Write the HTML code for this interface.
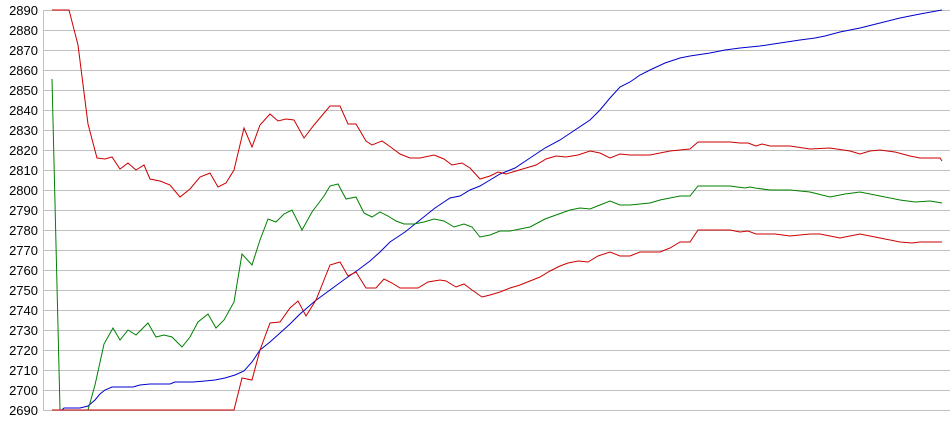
<!DOCTYPE html>
<html><head><meta charset="utf-8"><style>
html,body{margin:0;padding:0;background:#fff;}
svg{display:block}
text{font-family:"Liberation Sans",Arial,sans-serif;font-size:13px;fill:#000}
</style></head><body>
<svg width="950" height="435" xmlns="http://www.w3.org/2000/svg">
<g stroke="#c0c0c0" stroke-width="1" shape-rendering="crispEdges">
<line x1="43" y1="10.5" x2="950" y2="10.5"/><line x1="43" y1="30.5" x2="950" y2="30.5"/><line x1="43" y1="50.5" x2="950" y2="50.5"/><line x1="43" y1="70.5" x2="950" y2="70.5"/><line x1="43" y1="90.5" x2="950" y2="90.5"/><line x1="43" y1="110.5" x2="950" y2="110.5"/><line x1="43" y1="130.5" x2="950" y2="130.5"/><line x1="43" y1="150.5" x2="950" y2="150.5"/><line x1="43" y1="170.5" x2="950" y2="170.5"/><line x1="43" y1="190.5" x2="950" y2="190.5"/><line x1="43" y1="210.5" x2="950" y2="210.5"/><line x1="43" y1="230.5" x2="950" y2="230.5"/><line x1="43" y1="250.5" x2="950" y2="250.5"/><line x1="43" y1="270.5" x2="950" y2="270.5"/><line x1="43" y1="290.5" x2="950" y2="290.5"/><line x1="43" y1="310.5" x2="950" y2="310.5"/><line x1="43" y1="330.5" x2="950" y2="330.5"/><line x1="43" y1="350.5" x2="950" y2="350.5"/><line x1="43" y1="370.5" x2="950" y2="370.5"/><line x1="43" y1="390.5" x2="950" y2="390.5"/><line x1="43" y1="410.5" x2="950" y2="410.5"/>
<line x1="43.5" y1="10" x2="43.5" y2="411"/>
</g>
<g text-anchor="end">
<text x="38" y="15">2890</text><text x="38" y="35">2880</text><text x="38" y="55">2870</text><text x="38" y="75">2860</text><text x="38" y="95">2850</text><text x="38" y="115">2840</text><text x="38" y="135">2830</text><text x="38" y="155">2820</text><text x="38" y="175">2810</text><text x="38" y="195">2800</text><text x="38" y="215">2790</text><text x="38" y="235">2780</text><text x="38" y="255">2770</text><text x="38" y="275">2760</text><text x="38" y="295">2750</text><text x="38" y="315">2740</text><text x="38" y="335">2730</text><text x="38" y="355">2720</text><text x="38" y="375">2710</text><text x="38" y="395">2700</text><text x="38" y="415">2690</text>
</g>
<g fill="none" stroke-width="1">
<polyline stroke="#0000cc" points="52,410 62,410 64,408 80,408 88,406 95,400 100,394 105,390 112,387 133,387 140,385 150,384 170,384 175,382 193,382 205,381 215,380 225,378 235,375 244,371 252,362 260,350 270,342 280,333 290,324 300,314 315,301 330,290 345,279 358,270 370,261 380,252 390,242 405,232 420,220 435,208 450,198 460,196 470,190 480,186 490,180 500,174 515,168 530,158 545,148 560,140 575,130 590,120 600,110 610,98 620,87 630,82 640,75 650,70 665,63 680,58 690,56 710,53 725,50 740,48 760,46 780,43 800,40 815,38 825,36 840,32 860,28 880,23 900,18 920,14 942,10"/>
<polyline stroke="#cc0000" points="52,10 69,10 78,45 88,124 97,158 105,159 112,157 120,169 128,163 136,170 144,165 150,179 160,181 170,185 180,197 190,189 200,177 210,173 218,187 226,183 234,170 244,128 252,147 260,125 270,114 278,121 286,119 294,120 304,138 314,125 330,106 340,106 348,124 356,124 366,141 372,145 382,141 392,148 400,154 410,158 420,158 434,155 444,159 452,165 462,163 470,168 480,179 490,176 498,172 506,174 516,171 526,168 536,165 546,159 556,156 566,157 578,155 590,151 600,153 610,158 620,154 630,155 650,155 670,151 690,149 698,142 730,142 740,143 748,143 756,146 762,144 770,146 790,146 810,149 830,148 850,151 860,154 870,151 880,150 895,152 910,156 920,158 940,158 942,161"/>
<polyline stroke="#008000" points="52,79 60,410 88,410 95,385 104,344 113,328 120,340 128,330 136,335 148,323 156,337 164,335 172,337 182,347 190,337 198,322 208,314 216,328 224,320 234,302 242,254 252,265 260,240 268,219 276,222 284,214 292,210 302,230 312,212 324,196 330,186 338,184 346,199 356,197 364,213 372,217 380,212 388,216 396,221 404,224 414,224 424,222 434,219 444,221 454,227 464,224 472,227 480,237 490,235 500,231 510,231 520,229 530,227 545,219 556,215 570,210 580,208 590,209 600,205 610,201 620,205 630,205 650,203 660,200 680,196 690,196 698,186 730,186 745,188 750,187 755,188 770,190 790,190 810,192 830,197 845,194 860,192 880,196 900,200 915,202 930,201 942,203"/>
<polyline stroke="#cc0000" points="52,410 234,410 242,378 252,380 260,350 270,323 280,322 290,308 298,301 306,316 316,300 330,265 340,262 348,276 356,272 366,288 376,288 384,279 392,283 400,288 418,288 428,282 440,280 446,281 456,287 464,284 472,290 482,297 490,295 500,292 510,288 520,285 530,281 540,277 550,271 560,266 568,263 578,261 588,262 598,256 610,252 620,256 630,256 640,252 660,252 670,248 680,242 690,242 698,230 730,230 740,232 748,231 756,234 775,234 790,236 810,234 820,234 840,238 860,234 880,238 900,242 912,243 920,242 942,242"/>
</g>
</svg>
</body></html>
